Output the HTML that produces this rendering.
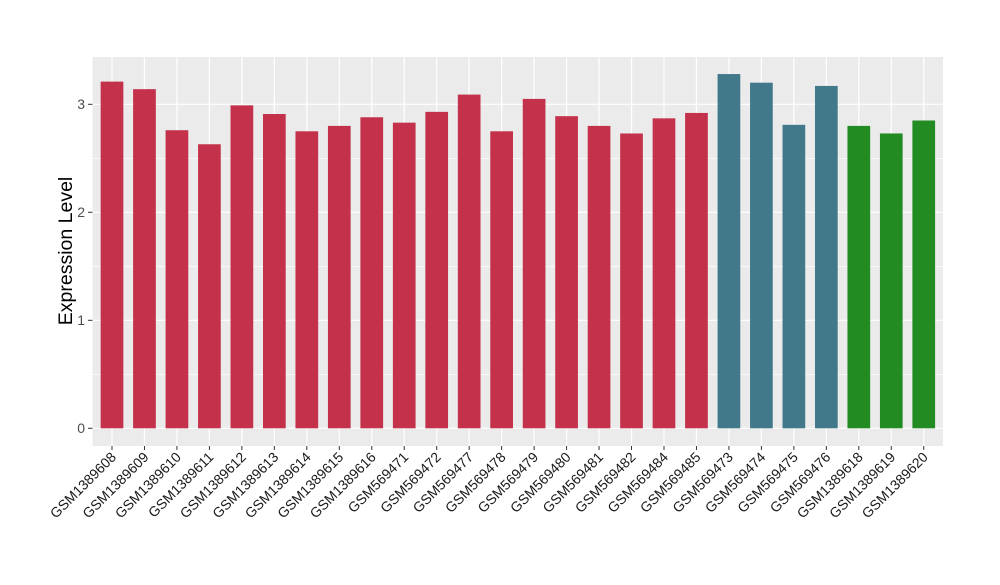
<!DOCTYPE html>
<html><head><style>body{margin:0;background:#fff}</style></head><body>
<svg width="1000" height="580" xmlns="http://www.w3.org/2000/svg" font-family="Liberation Sans, Arial, sans-serif">
<rect width="1000" height="580" fill="#fff"/>
<rect x="92.5" y="57" width="850.5" height="389" fill="#EBEBEB"/>
<g stroke="#fff" stroke-width="0.6">
<line x1="92.5" x2="943" y1="374.3" y2="374.3"/><line x1="92.5" x2="943" y1="266.3" y2="266.3"/><line x1="92.5" x2="943" y1="158.3" y2="158.3"/>
</g>
<g stroke="#fff" stroke-width="1.2" id="g"></g>
<g id="bars"></g>
<g id="lab" font-size="14" fill="#1a1a1a"></g>
<g font-size="14" fill="#4d4d4d" text-anchor="end">
<text x="85" y="433">0</text><text x="85" y="325">1</text><text x="85" y="217">2</text><text x="85" y="109">3</text>
</g>
<g stroke="#333" stroke-width="1">
<line x1="88" x2="92.5" y1="428.3" y2="428.3"/><line x1="88" x2="92.5" y1="320.3" y2="320.3"/><line x1="88" x2="92.5" y1="212.3" y2="212.3"/><line x1="88" x2="92.5" y1="104.3" y2="104.3"/>
</g>
<text transform="translate(72,251) rotate(-90)" text-anchor="middle" font-size="19.5" fill="#000">Expression Level</text>
<script>
(function(){
var names=["GSM1389608","GSM1389609","GSM1389610","GSM1389611","GSM1389612","GSM1389613","GSM1389614","GSM1389615","GSM1389616","GSM569471","GSM569472","GSM569477","GSM569478","GSM569479","GSM569480","GSM569481","GSM569482","GSM569484","GSM569485","GSM569473","GSM569474","GSM569475","GSM569476","GSM1389618","GSM1389619","GSM1389620"];
var vals=[3.21,3.14,2.76,2.63,2.99,2.91,2.75,2.80,2.88,2.83,2.93,3.09,2.75,3.05,2.89,2.80,2.73,2.87,2.92,3.28,3.20,2.81,3.17,2.80,2.73,2.85];
var ns="http://www.w3.org/2000/svg";
function el(t,a,p){var e=document.createElementNS(ns,t);for(var k in a)e.setAttribute(k,a[k]);document.getElementById(p).appendChild(e);return e;}
[428.3,320.3,212.3,104.3].forEach(function(yy){el("line",{x1:92.5,x2:943,y1:yy,y2:yy},"g");});
for(var i=0;i<26;i++){var x=112+i*32.47;
el("line",{x1:x,x2:x,y1:57,y2:446},"g");
var c=i<19?"#C4314A":(i<23?"#41788A":"#228B22");
var ty=428.3-vals[i]*108;
el("rect",{x:x-11.35,y:ty,width:22.7,height:428.3-ty,fill:c},"bars");
el("line",{x1:x,x2:x,y1:446,y2:450,stroke:"#333"},"bars");
var t=el("text",{transform:"translate("+(x+5)+",458) rotate(-45)","text-anchor":"end"},"lab");t.textContent=names[i];}
})();
</script>
</svg>
</body></html>
